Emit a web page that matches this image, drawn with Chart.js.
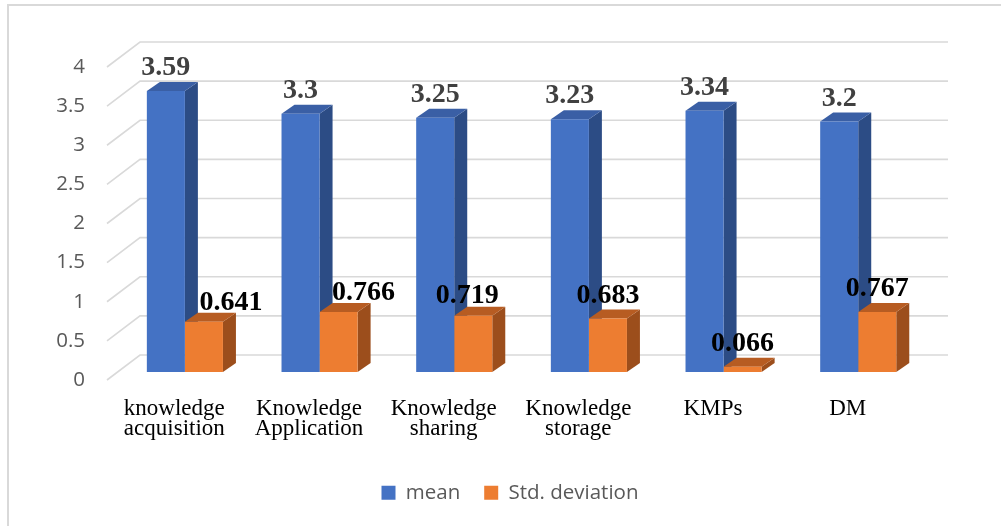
<!DOCTYPE html>
<html>
<head>
<meta charset="utf-8">
<script src="https://cdn.jsdelivr.net/npm/chart.js@4.4.1/dist/chart.umd.min.js"></script>
<style>
  html, body { margin: 0; padding: 0; background: #ffffff; }
  canvas { display: block; }
</style>
</head>
<body>
<canvas id="chart" width="1001" height="526"></canvas>
<script>
// Categories (multi-line labels) and the two series
const categories = [
  ["knowledge", "acquisition"],
  ["Knowledge", "Application"],
  ["Knowledge", "sharing"],
  ["Knowledge", "storage"],
  "KMPs",
  "DM"
];
const meanValues = [3.59, 3.3, 3.25, 3.23, 3.34, 3.2];
const stdValues = [0.641, 0.766, 0.719, 0.683, 0.066, 0.767];
const seriesNames = ["mean", "Std. deviation"];

// Value axis range
const yMin = 0;
const yMax = 4;
const yStep = 0.5;

// Colours per series: front, side, top faces
const faceColors = [
  { front: "#4472C4", side: "#2C4C85", top: "#3A5FA5" },
  { front: "#ED7D31", side: "#9C4E1C", top: "#B75C22" }
];

// 3D look: floor depth, where the bars sit inside it and how deep they are
const FLOOR = { dx: 33, dy: -25 };
const BAR_PLANE = 0.32;
const BAR_DEPTH = { dx: 13, dy: -9 };

const pseudo3d = {
  id: "pseudo3d",
  beforeDraw(chart, args, opts) {
    // centre the legend row under the plot
    const lg = chart.legend;
    if (lg) {
      const shift = opts.legendCenter - (lg.left + lg.right) / 2;
      lg.left += shift;
      lg.right += shift;
    }
    const ctx = chart.ctx;
    ctx.save();
    ctx.strokeStyle = "#d9d9d9";
    ctx.lineWidth = 2;
    ctx.beginPath();
    ctx.moveTo(8, 526);
    ctx.lineTo(8, 5);
    ctx.lineTo(1001, 5);
    ctx.stroke();
    ctx.restore();
  },
  beforeDatasetsDraw(chart) {
    const ctx = chart.ctx;
    const xs = chart.scales.x, ys = chart.scales.y;
    // back wall gridlines with the diagonal floor edges
    ctx.save();
    ctx.strokeStyle = "#d9d9d9";
    ctx.lineWidth = 1.6;
    ys.ticks.forEach(t => {
      const py = ys.getPixelForValue(t.value);
      ctx.beginPath();
      ctx.moveTo(xs.left, py);
      ctx.lineTo(xs.left + FLOOR.dx, py + FLOOR.dy);
      ctx.lineTo(xs.right + FLOOR.dx, py + FLOOR.dy);
      ctx.stroke();
    });
    ctx.restore();

    // move into the bars' depth plane; the library draws the front faces here
    ctx.save();
    ctx.translate(FLOOR.dx * BAR_PLANE, FLOOR.dy * BAR_PLANE);
    const metas = [chart.getDatasetMeta(0), chart.getDatasetMeta(1)];
    const n = chart.data.labels.length;
    for (let i = 0; i < n; i++) {
      metas.forEach((meta, d) => {
        const el = meta.data[i];
        if (!el) return;
        const p = el.getProps(["x", "y", "base", "width"], true);
        const l = p.x - p.width / 2, r = p.x + p.width / 2;
        const top = Math.min(p.y, p.base), bot = Math.max(p.y, p.base);
        // side face
        ctx.fillStyle = faceColors[d].side;
        ctx.beginPath();
        ctx.moveTo(r, top);
        ctx.lineTo(r + BAR_DEPTH.dx, top + BAR_DEPTH.dy);
        ctx.lineTo(r + BAR_DEPTH.dx, bot + BAR_DEPTH.dy);
        ctx.lineTo(r, bot);
        ctx.closePath();
        ctx.fill();
        // top face
        ctx.fillStyle = faceColors[d].top;
        ctx.beginPath();
        ctx.moveTo(l, top);
        ctx.lineTo(l + BAR_DEPTH.dx, top + BAR_DEPTH.dy);
        ctx.lineTo(r + BAR_DEPTH.dx, top + BAR_DEPTH.dy);
        ctx.lineTo(r, top);
        ctx.closePath();
        ctx.fill();
      });
    }
  },
  afterDatasetsDraw(chart, args, opts) {
    const ctx = chart.ctx;
    // value labels above each bar
    ctx.textAlign = "center";
    ctx.textBaseline = "alphabetic";
    ctx.font = "bold 28px 'Liberation Serif', 'Times New Roman', serif";
    [0, 1].forEach(d => {
      const meta = chart.getDatasetMeta(d);
      const values = chart.data.datasets[d].data;
      meta.data.forEach((el, i) => {
        const p = el.getProps(["x", "y"], true);
        const sx = (opts.shiftX[d] || [])[i] || 0;
        const sy = (opts.shiftY[d] || [])[i] || 0;
        ctx.fillStyle = opts.colors[d];
        ctx.fillText(String(values[i]), p.x + sx, p.y + BAR_DEPTH.dy - 7 + sy);
      });
    });
    ctx.restore();
  }
};

new Chart(document.getElementById("chart"), {
  type: "bar",
  data: {
    labels: categories,
    datasets: [
      { label: seriesNames[0], data: meanValues, backgroundColor: faceColors[0].front, borderWidth: 0, clip: false },
      { label: seriesNames[1], data: stdValues, backgroundColor: faceColors[1].front, borderWidth: 0, clip: false }
    ]
  },
  plugins: [pseudo3d],
  options: {
    responsive: false,
    animation: false,
    events: [],
    layout: { padding: { left: 8, right: 86, top: 67, bottom: 13 } },
    datasets: { bar: { categoryPercentage: 0.565, barPercentage: 1 } },
    scales: {
      x: {
        grid: { display: false, drawTicks: false },
        border: { display: false },
        ticks: {
          padding: 19,
          maxRotation: 0,
          autoSkip: false,
          color: "#000000",
          font: { family: "'Liberation Serif', 'Times New Roman', serif", size: 23, lineHeight: 0.87 }
        },
        afterFit(s) { s.height = 78.5; }
      },
      y: {
        min: yMin,
        max: yMax,
        grid: { display: false, drawTicks: false },
        border: { display: false },
        ticks: {
          stepSize: yStep,
          padding: 22,
          color: "#595959",
          font: { family: "'Open Sans', sans-serif", size: 20.5 },
          callback: (v) => String(Number(v))
        },
        afterFit(s) { s.width = 99; }
      }
    },
    plugins: {
      tooltip: { enabled: false },
      legend: {
        position: "bottom",
        labels: {
          boxWidth: 14,
          boxHeight: 14,
          padding: 24,
          color: "#595959",
          font: { family: "'Open Sans', sans-serif", size: 20.5 },
          sort: (a, b) => a.datasetIndex - b.datasetIndex
        }
      },
      pseudo3d: {
        legendCenter: 510,
        colors: ["#404040", "#000000"],
        shiftX: [[0, 0, 0, 0, 0, 0], [27, 25, -6, 0, 0, 0]],
        shiftY: [[0, 0, 0, 0, 0, 0], [4, 4, 3, 0, 0, 0]]
      }
    }
  }
});
</script>
</body>
</html>
